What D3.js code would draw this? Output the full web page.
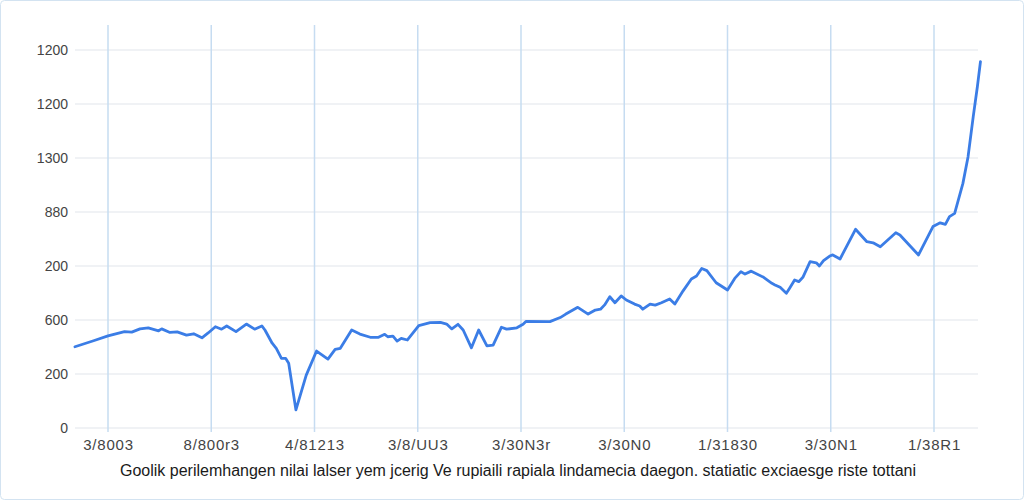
<!DOCTYPE html>
<html>
<head>
<title>Grafik nilai tukar</title>
<script src="https://d3js.org/d3.v7.min.js"></script>
<style>
body,html {
  margin: 0;
  padding: 0;
  background: #fff;
}
svg {
  display: block;
  font-family: Arial, "Liberation Sans", sans-serif;
}
</style>
</head>
<body>
<svg id="chart" width="1024" height="500"></svg>
<script>

// y tick values and the labels as printed on the picture
const yTickValues = [0, 200, 400, 600, 800, 1000, 1200, 1400];
const yTickLabels = ["0", "200", "600", "200", "880", "1300", "1200", "1200"];

// x tick positions (period index * 100) and their labels
const xTickValues = [0, 100, 200, 300, 400, 500, 600, 700, 800];
const xTickLabels = ["3/8003", "8/800r3", "4/81213", "3/8/UU3", "3/30N3r",
                     "3/30N0", "1/31830", "3/30N1", "1/38R1"];

const chartTitle = "Goolik perilemhangen nilai lalser yem jcerig Ve rupiaili rapiala lindamecia daegon. statiatic exciaesge riste tottani";

// series: time position and value
const times = [-32, -14, 0, 16, 23, 31, 39, 49, 52, 60, 67, 76, 83, 91, 97, 104, 110, 115, 124, 134,
  142, 149, 152, 159, 163, 168, 172, 175, 182, 192, 202, 213, 220, 225, 236, 244, 254, 262, 268, 271,
  276, 280, 284, 290, 301, 312, 322, 328, 333, 339, 344, 352, 359, 367, 373, 381, 386, 396, 402, 405,
  428, 438, 443, 455, 465, 472, 477, 481, 486, 491, 497, 502, 510, 515, 518, 525, 530, 536, 544, 549,
  557, 565, 570, 575, 580, 589, 600, 607, 613, 617, 623, 635, 643, 646, 651, 657, 660, 665, 669, 673,
  677, 680, 686, 689, 693, 699, 702, 709, 724, 735, 741, 748, 763, 767, 785, 799, 806, 811, 815, 820,
  828, 833, 838, 842, 845];
const values = [301, 323, 341, 357, 355, 367, 371, 360, 367, 354, 356, 344, 349, 334, 352, 375, 366, 378, 357, 385,
  366, 378, 363, 314, 295, 258, 258, 240, 67, 196, 285, 255, 291, 295, 363, 348, 336, 336, 347, 338,
  340, 322, 332, 326, 379, 390, 391, 385, 367, 384, 363, 297, 363, 304, 307, 373, 366, 371, 384, 395,
  394, 409, 421, 447, 422, 437, 440, 456, 486, 464, 489, 474, 459, 452, 440, 459, 455, 464, 478, 459,
  508, 552, 563, 591, 583, 538, 511, 554, 579, 570, 581, 558, 536, 530, 521, 499, 517, 548, 542, 558,
  591, 616, 612, 600, 620, 637, 641, 626, 736, 690, 686, 671, 723, 715, 641, 746, 760, 754, 783, 795,
  906, 1005, 1153, 1264, 1357];

function main() {
  const svg = d3.select("#chart");

  svg.append("rect")
     .attr("x", 0.5).attr("y", 0.5)
     .attr("width", 1023).attr("height", 499)
     .attr("rx", 4)
     .attr("fill", "#fff")
     .attr("stroke", "#d3e3f1");

  const xScale = d3.scaleLinear().domain([0, 800]).range([108, 934]);
  const yScale = d3.scaleLinear().domain([0, 1400]).range([428, 50]);

  // horizontal grid
  svg.append("g")
     .selectAll("line")
     .data(yTickValues)
     .join("line")
       .attr("x1", 75).attr("x2", 978)
       .attr("y1", d => yScale(d)).attr("y2", d => yScale(d))
       .attr("stroke", "#e2e6eb")
       .attr("stroke-width", 1.2);

  // vertical grid
  svg.append("g")
     .selectAll("line")
     .data(xTickValues)
     .join("line")
       .attr("x1", d => xScale(d)).attr("x2", d => xScale(d))
       .attr("y1", 25).attr("y2", 432)
       .attr("stroke", "#c6dcf1")
       .attr("stroke-width", 1.5);

  // y labels
  const yAxis = d3.axisLeft(yScale)
                  .tickValues(yTickValues)
                  .tickSize(0)
                  .tickPadding(0)
                  .tickFormat((d, i) => yTickLabels[i]);
  const gy = svg.append("g")
     .attr("transform", "translate(68,0)")
     .call(yAxis);
  gy.select(".domain").remove();
  gy.selectAll("text")
     .style("font-size", "14px")
     .style("font-family", "Arial, 'Liberation Sans', sans-serif")
     .attr("fill", "#444");

  // x labels
  const xAxis = d3.axisBottom(xScale)
                  .tickValues(xTickValues)
                  .tickSize(0)
                  .tickPadding(0)
                  .tickFormat((d, i) => xTickLabels[i]);
  const gx = svg.append("g")
     .attr("transform", "translate(0,439)")
     .call(xAxis);
  gx.select(".domain").remove();
  gx.selectAll("text")
     .style("font-size", "15px")
     .style("letter-spacing", "0.8px")
     .style("font-family", "Arial, 'Liberation Sans', sans-serif")
     .attr("fill", "#444");

  // series line
  const pts = times.map((t, i) => ({ t: t, v: values[i] }));
  const line = d3.line()
                 .x(d => xScale(d.t))
                 .y(d => yScale(d.v));

  svg.append("path")
     .attr("fill", "none")
     .attr("stroke", "#3b7de6")
     .attr("stroke-width", 2.8)
     .attr("stroke-linejoin", "round")
     .attr("stroke-linecap", "round")
     .attr("d", line(pts));

  // title
  svg.append("text")
     .attr("x", 518)
     .attr("y", 476)
     .attr("text-anchor", "middle")
     .style("font-size", "16px")
     .attr("fill", "#1a1a1a")
     .text(chartTitle);
}

main();

</script>
</body>
</html>
